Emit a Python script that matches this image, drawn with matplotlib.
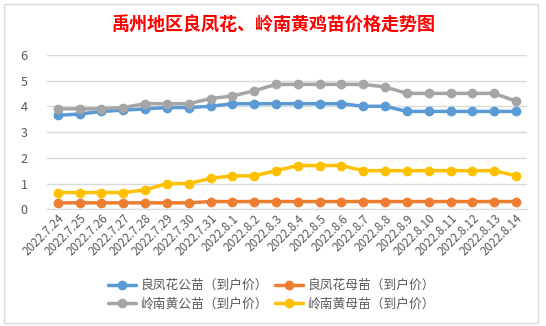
import matplotlib
matplotlib.use('Agg')
import matplotlib.pyplot as plt
from matplotlib.patches import Rectangle

plt.rcParams['font.family'] = ['Noto Sans CJK SC', 'DejaVu Sans']

# --- data ---
dates = ['2022.7.24', '2022.7.25', '2022.7.26', '2022.7.27', '2022.7.28', '2022.7.29',
         '2022.7.30', '2022.7.31', '2022.8.1', '2022.8.2', '2022.8.3', '2022.8.4',
         '2022.8.5', '2022.8.6', '2022.8.7', '2022.8.8', '2022.8.9', '2022.8.10',
         '2022.8.11', '2022.8.12', '2022.8.13', '2022.8.14']
lf_male = [3.65, 3.7, 3.8, 3.85, 3.9, 3.95, 3.95, 4.0, 4.1, 4.1, 4.1, 4.1,
           4.1, 4.1, 4.0, 4.0, 3.8, 3.8, 3.8, 3.8, 3.8, 3.8]
lf_female = [0.25, 0.25, 0.25, 0.25, 0.25, 0.25, 0.25, 0.3, 0.3, 0.3, 0.3, 0.3,
             0.3, 0.3, 0.3, 0.3, 0.3, 0.3, 0.3, 0.3, 0.3, 0.3]
ln_male = [3.9, 3.9, 3.9, 3.95, 4.1, 4.1, 4.1, 4.3, 4.4, 4.6, 4.85, 4.85,
           4.85, 4.85, 4.85, 4.75, 4.5, 4.5, 4.5, 4.5, 4.5, 4.2]
ln_female = [0.65, 0.65, 0.65, 0.65, 0.75, 1.0, 1.0, 1.2, 1.3, 1.3, 1.5, 1.7,
             1.7, 1.7, 1.5, 1.5, 1.5, 1.5, 1.5, 1.5, 1.5, 1.3]
names = ['良凤花公苗（到户价）', '良凤花母苗（到户价）', '岭南黄公苗（到户价）', '岭南黄母苗（到户价）']
colors = ['#5B9BD5', '#ED7D31', '#A5A5A5', '#FFC000']

fig = plt.figure(figsize=(5.46, 3.26), dpi=100)
ax = fig.add_axes([0.086, 0.358, 0.879, 0.474])

x = list(range(len(dates)))
lines = []
for vals, name, c in zip([lf_male, lf_female, ln_male, ln_female], names, colors):
    ln, = ax.plot(x, vals, color=c, lw=2.5, marker='o', ms=6, label=name,
                  solid_capstyle='round')
    lines.append(ln)

ax.set_xlim(-0.5, len(dates) - 0.5)
ax.set_ylim(0, 6)
ax.set_yticks(range(0, 7))
ax.grid(axis='y', color='#D9D9D9', lw=1)
ax.set_axisbelow(True)
for s in ['top', 'right', 'left']:
    ax.spines[s].set_visible(False)
ax.spines['bottom'].set_color('#D9D9D9')
ax.tick_params(axis='both', length=0, colors='#595959', labelsize=8.5)
ax.tick_params(axis='y', pad=14, labelsize=9)
ax.set_xticks(x)
ax.set_xticklabels(dates, rotation=45, ha='right', va='top', rotation_mode='anchor')
ax.tick_params(axis='x', pad=2)

fig.text(0.5, 0.923, '禹州地区良凤花、岭南黄鸡苗价格走势图', ha='center', va='center',
         color='#FF0000', fontsize=13, fontweight='bold')

fig.legend([lines[0], lines[2], lines[1], lines[3]],
           [names[0], names[2], names[1], names[3]],
           loc='center', bbox_to_anchor=(0.497, 0.095), ncol=2, frameon=False,
           fontsize=9.2, labelcolor='#595959', handlelength=2.2,
           columnspacing=0.6, labelspacing=0.45, handletextpad=0.3)

fig.patches.append(Rectangle((4 / 546, 1 - 323 / 326), 534 / 546, 319 / 326,
                             transform=fig.transFigure, fill=False,
                             edgecolor='#D9D9D9', lw=1))

fig.savefig('out.png', dpi=100)
